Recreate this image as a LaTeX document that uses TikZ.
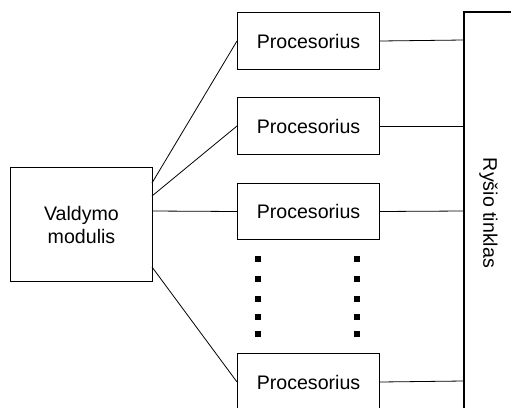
\documentclass[tikz,border=0pt]{standalone}
\usepackage{fontspec}
\setmainfont{Liberation Sans}
\begin{document}
\begin{tikzpicture}[x=1pt,y=-1pt,
  box/.style={draw, line width=1pt, inner sep=0pt, anchor=north west},
  wire/.style={line width=0.8pt},
  dot/.style={fill=black, minimum size=6pt, inner sep=0pt},
  every node/.style={font=\fontsize{19.6}{23}\selectfont}]
\useasboundingbox (0,0) rectangle (511,407);
% control module
\node[box, minimum width=142pt, minimum height=114pt, align=center] (ctl) at (10,167) {Valdymo\\modulis};
% processors
\node[box, minimum width=142pt, minimum height=57pt] (p1) at (237,12) {Procesorius};
\node[box, minimum width=142pt, minimum height=57pt] (p2) at (237,97) {Procesorius};
\node[box, minimum width=142pt, minimum height=56pt] (p3) at (237,183) {Procesorius};
\node[box, minimum width=142pt, minimum height=57pt] (p4) at (237,353) {Procesorius};
% communication network (bus), its right and bottom sides lie outside the frame
\draw[line width=1.1pt] (530,12) -- (464,12) -- (464,430);
\coordinate (b1) at (464,40);
\coordinate (b2) at (464,126);
\coordinate (b3) at (464,211);
\coordinate (b4) at (464,381);
\node[rotate=-90] (net) at (488.5,213) {Ryšio tinklas};
% links from the control module to the processors
\coordinate (c1) at (152,183);
\coordinate (c2) at (152,196);
\coordinate (c3) at (152,211);
\coordinate (c4) at (152,267);
\draw[wire] (c1) -- (p1.west);
\draw[wire] (c2) -- (p2.west);
\draw[wire] (c3) -- (p3.west);
\draw[wire] (c4) -- (p4.west);
% links from the processors to the bus
\draw[wire] (p1.east) -- (b1);
\draw[wire] (p2.east) -- (b2);
\draw[wire] (p3.east) -- (b3);
\draw[wire] (p4.east) -- (b4);
% ellipsis dots
\foreach \yy [count=\i] in {259,279,299,317,334} {
  \node[dot] (dl\i) at (258,\yy) {};
  \node[dot] (dr\i) at (357,\yy) {};
}
\end{tikzpicture}
\end{document}
